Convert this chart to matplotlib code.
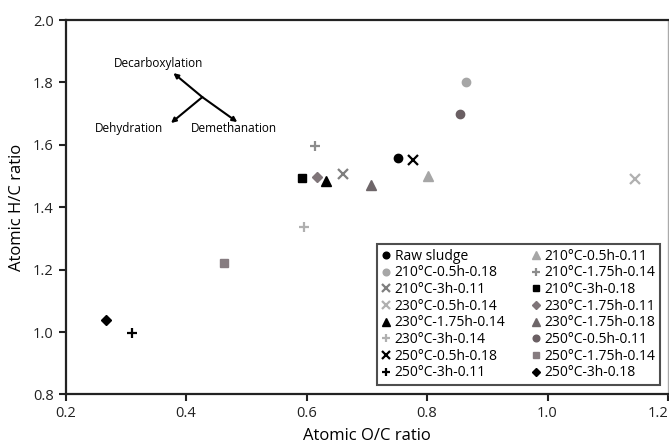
import matplotlib.pyplot as plt

plt.rcParams['font.family'] = ['Open Sans', 'DejaVu Sans']

# samples: label, O/C, H/C
labels = ['Raw sludge', '210°C-0.5h-0.11', '210°C-0.5h-0.18', '210°C-1.75h-0.14',
          '210°C-3h-0.11', '210°C-3h-0.18', '230°C-0.5h-0.14', '230°C-1.75h-0.11',
          '230°C-1.75h-0.14', '230°C-1.75h-0.18', '230°C-3h-0.14', '250°C-0.5h-0.11',
          '250°C-0.5h-0.18', '250°C-1.75h-0.14', '250°C-3h-0.11', '250°C-3h-0.18']
oc = [0.752, 0.802, 0.864, 0.614, 0.661, 0.593, 1.146, 0.618,
      0.633, 0.707, 0.595, 0.854, 0.777, 0.463, 0.311, 0.267]
hc = [1.558, 1.500, 1.802, 1.596, 1.506, 1.494, 1.491, 1.497,
      1.484, 1.471, 1.337, 1.699, 1.551, 1.222, 0.998, 1.040]

markers = ['o', '^', 'o', '+', 'x', 's', 'x', 'D', '^', '^', '+', 'o', 'x', 's', '+', 'D']
colors = ['black', '#a6a6a6', '#a6a6a6', '#8c8c8c', '#7f7f7f', 'black', '#b0b0b0', '#7f7579',
          'black', '#6e6669', '#b0b0b0', '#6a5f63', 'black', '#867c80', 'black', 'black']
sizes = [6, 7, 6, 7, 7, 6, 7, 5, 7, 7, 7, 6, 7, 6, 7, 5]

fig = plt.figure(figsize=(6.69, 4.45), dpi=100)
ax = fig.add_axes([0.098, 0.1135, 0.9005, 0.8415])

handles = []
for x, y, m, c, s, lab in zip(oc, hc, markers, colors, sizes, labels):
    mew = 1.6 if m in ('x', '+') else 1
    h, = ax.plot(x, y, ls='none', marker=m, color=c, ms=s, mew=mew, label=lab)
    handles.append(h)

ax.set_xlim(0.2, 1.2)
ax.set_ylim(0.8, 2.0)
ax.set_xticks([0.2, 0.4, 0.6, 0.8, 1.0, 1.2])
ax.set_yticks([0.8, 1.0, 1.2, 1.4, 1.6, 1.8, 2.0])
ax.xaxis.set_major_formatter(plt.FormatStrFormatter('%.1f'))
ax.yaxis.set_major_formatter(plt.FormatStrFormatter('%.1f'))
ax.tick_params(direction='out', length=5, width=1.5, labelsize=10.5, colors='#222222')
ax.set_xlabel('Atomic O/C ratio', fontsize=12, labelpad=5)
ax.set_ylabel('Atomic H/C ratio', fontsize=12, labelpad=6)
for side in ['left', 'bottom', 'top']:
    ax.spines[side].set_linewidth(1.6)
    ax.spines[side].set_color('#222222')
ax.spines['right'].set_color('#aaaaaa')
ax.spines['right'].set_linewidth(1)

# keep the last x tick label inside the figure
fig.canvas.draw()
ax.get_xticklabels()[-1].set_horizontalalignment('right')
ax.get_xticklabels()[-1].set_x(1.2 + 0.012)

# reaction pathway arrows
arrow = dict(arrowstyle='-|>', color='black', lw=1.5, mutation_scale=7, shrinkA=0, shrinkB=0)
ax.annotate('', xy=(0.379, 1.830), xytext=(0.427, 1.753), arrowprops=arrow)
ax.annotate('', xy=(0.485, 1.673), xytext=(0.427, 1.753), arrowprops=arrow)
ax.annotate('', xy=(0.375, 1.670), xytext=(0.427, 1.753), arrowprops=arrow)
ax.text(0.355, 1.862, 'Decarboxylation', fontsize=8.5, ha='center', va='center')
ax.text(0.305, 1.651, 'Dehydration', fontsize=8.5, ha='center', va='center')
ax.text(0.480, 1.651, 'Demethanation', fontsize=8.5, ha='center', va='center')

# legend reads row-wise in 2 columns
order = list(range(0, 16, 2)) + list(range(1, 16, 2))
leg = ax.legend([handles[i] for i in order], [labels[i] for i in order], ncol=2,
                loc='lower right', bbox_to_anchor=(0.9985, 0.006), fontsize=10,
                handlelength=0.6, handletextpad=0.3, columnspacing=1.9,
                labelspacing=0.12, borderpad=0.35, fancybox=False, frameon=True,
                markerscale=0.8)
leg.get_frame().set_edgecolor('#222222')
leg.get_frame().set_linewidth(1.5)

fig.savefig('out.png', dpi=100)
